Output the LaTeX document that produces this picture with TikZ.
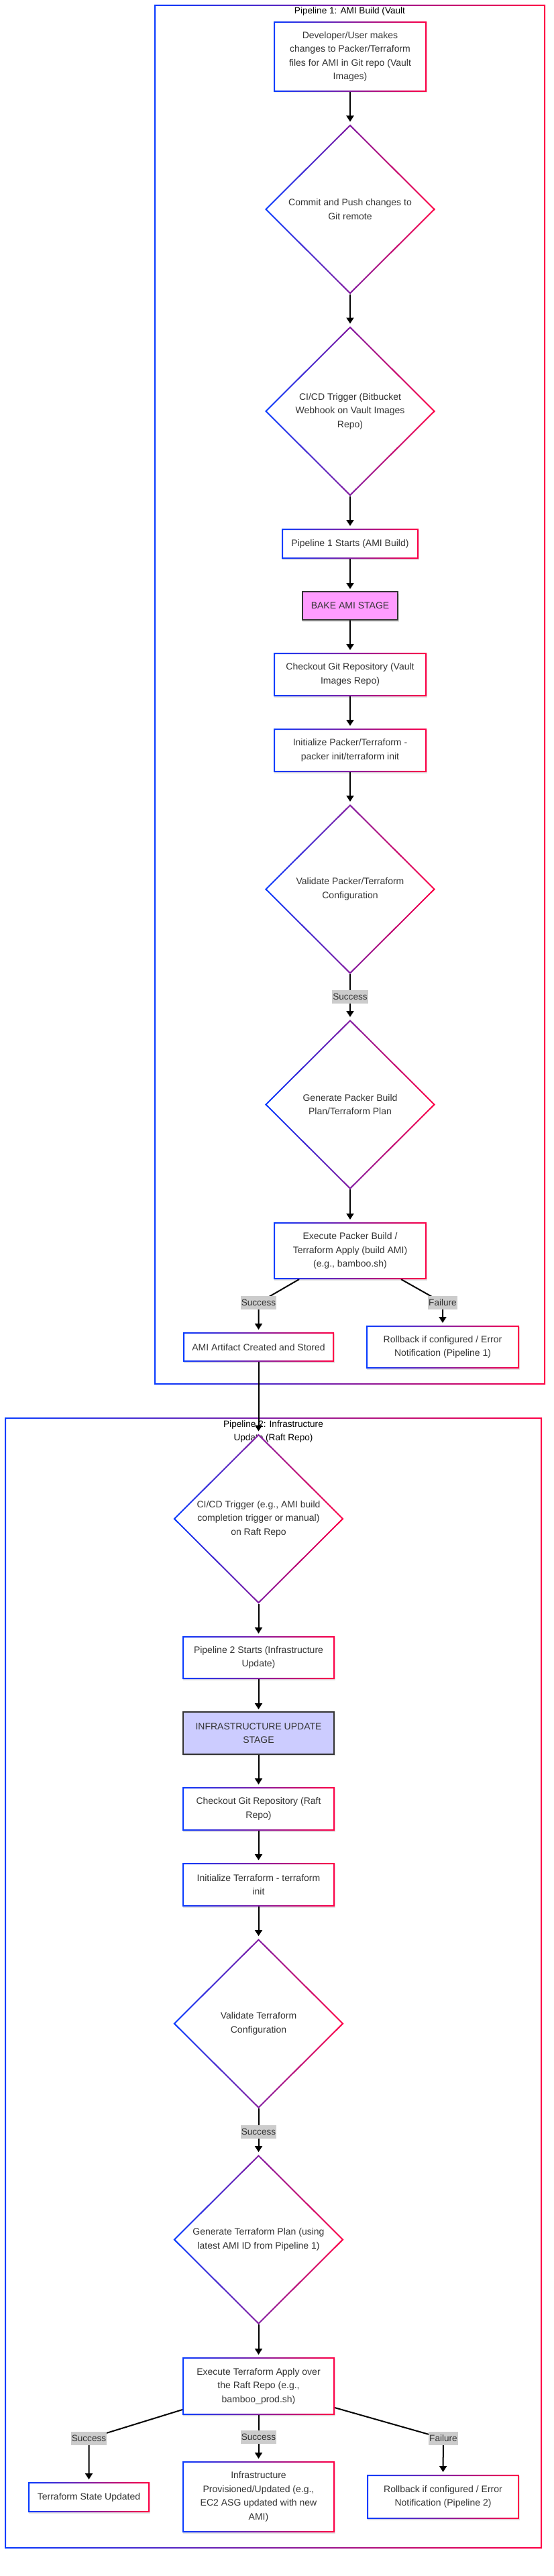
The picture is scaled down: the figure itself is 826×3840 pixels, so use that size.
\documentclass[tikz,border=0pt]{standalone}
\usepackage{fontspec}
\setmainfont{Liberation Sans}
\usetikzlibrary{arrows.meta,calc}
\definecolor{gBlue}{RGB}{10,60,255}
\definecolor{gRed}{RGB}{255,0,70}
\definecolor{txt}{HTML}{333333}
\definecolor{bakefill}{HTML}{FF9CFF}
\definecolor{infrafill}{HTML}{CCCCFF}
\definecolor{lblfill}{HTML}{CCCCCC}
\definecolor{stagedraw}{HTML}{333333}
\pgfdeclarelayer{clusters}
\pgfdeclarelayer{edges}
\pgfdeclarelayer{shapes}
\pgfsetlayers{clusters,edges,shapes,main}
\newcommand\nodefont{\fontsize{14pt}{20.5pt}\selectfont}
\newcommand\smallfont{\fontsize{13.6pt}{20pt}\selectfont}
\tikzset{
  every node/.style={inner sep=0pt, outer sep=0pt},
  gbox/.style={rectangle, align=center, text=txt, font=\nodefont},
  gdia/.style={rectangle, align=center, text=txt, font=\nodefont, minimum width=254pt, minimum height=253pt},
  stagebox/.style={rectangle, align=center, text=txt, font=\nodefont, draw=stagedraw, line width=2pt},
  lbl/.style={rectangle, fill=lblfill, text=txt, font=\smallfont, inner xsep=1pt, minimum height=20pt},
  ctitle/.style={font=\smallfont, text=black, align=center},
  arr/.style={draw=black, line width=2pt, -{Triangle[length=9pt,width=11pt]}, shorten >=4pt},
  cluster/.style={rectangle},
  gradborder/.style={left color=gBlue, right color=gRed, even odd rule},
}
\begin{document}
\begin{tikzpicture}[x=1pt,y=-1pt]
\useasboundingbox (0,0) rectangle (826,3840);

% ---------- clusters ----------
\begin{pgfonlayer}{clusters}
\fill[white] (0,0) rectangle (826,3840);
\node[cluster, minimum width=583pt, minimum height=2057pt] (c1) at (521.5,1035.5) {};
\node[cluster, minimum width=801pt, minimum height=1686pt] (c2) at (407.5,2956) {};
\foreach \c in {c1,c2} {
  \shade[gradborder] (\c.north west) rectangle (\c.south east)
    ([shift={(2pt,-2pt)}]\c.north west) rectangle ([shift={(-2pt,2pt)}]\c.south east);
}
\node[ctitle] (t1) at (521.5,17) {Pipeline 1: AMI Build (Vault};
\node[ctitle] (t2) at (407.5,2134) {Pipeline 2: Infrastructure\\Update (Raft Repo)};
\end{pgfonlayer}

% ---------- pipeline 1 nodes ----------
\node[gbox, minimum width=228pt, minimum height=105pt] (dev) at (522,84.5) {Developer/User makes\\changes to Packer/Terraform\\files for AMI in Git repo (Vault\\Images)};
\node[gdia] (commit) at (522,312) {Commit and Push changes to\\Git remote};
\node[gdia] (cicd1) at (522,613) {CI/CD Trigger (Bitbucket\\Webhook on Vault Images\\Repo)};
\node[gbox, minimum width=204pt, minimum height=45pt] (p1start) at (522,810.5) {Pipeline 1 Starts (AMI Build)};
\node[stagebox, fill=bakefill, minimum width=142pt, minimum height=42pt] (bake) at (522,903) {BAKE AMI STAGE};
\node[gbox, minimum width=228pt, minimum height=65pt] (checkout1) at (522,1005.5) {Checkout Git Repository (Vault\\Images Repo)};
\node[gbox, minimum width=228pt, minimum height=65pt] (init1) at (522,1118.5) {Initialize Packer/Terraform -\\packer init/terraform init};
\node[gdia] (validate1) at (522,1325.5) {Validate Packer/Terraform\\Configuration};
\node[lbl] (lA) at (522,1486) {Success};
\node[gdia] (gen1) at (522,1646.5) {Generate Packer Build\\Plan/Terraform Plan};
\node[gbox, minimum width=228pt, minimum height=85pt] (exec1) at (522,1864.5) {Execute Packer Build /\\Terraform Apply (build AMI)\\(e.g., bamboo.sh)};
\node[lbl] (lB) at (385.5,1942) {Success};
\node[lbl] (lC) at (660,1942) {Failure};
\node[gbox, minimum width=225pt, minimum height=44pt] (ami) at (385.5,2008) {AMI Artifact Created and Stored};
\node[gbox, minimum width=228pt, minimum height=64pt] (rb1) at (660,2008) {Rollback if configured / Error\\Notification (Pipeline 1)};

% ---------- pipeline 2 nodes ----------
\node[gdia] (cicd2) at (385.5,2264) {CI/CD Trigger (e.g., AMI build\\completion trigger or manual)\\on Raft Repo};
\node[gbox, minimum width=227pt, minimum height=64pt] (p2start) at (385.5,2471) {Pipeline 2 Starts (Infrastructure\\Update)};
\node[stagebox, fill=infrafill, minimum width=225pt, minimum height=63pt] (infra) at (385.5,2583.5) {INFRASTRUCTURE UPDATE\\STAGE};
\node[gbox, minimum width=227pt, minimum height=65pt] (checkout2) at (385.5,2696.5) {Checkout Git Repository (Raft\\Repo)};
\node[gbox, minimum width=227pt, minimum height=65pt] (init2) at (385.5,2809.5) {Initialize Terraform - terraform\\init};
\node[gdia] (validate2) at (385.5,3016.5) {Validate Terraform\\Configuration};
\node[lbl] (lD) at (385.5,3178) {Success};
\node[gdia] (gen2) at (385.5,3338.5) {Generate Terraform Plan (using\\latest AMI ID from Pipeline 1)};
\node[gbox, minimum width=227pt, minimum height=86pt] (exec2) at (385.5,3557) {Execute Terraform Apply over\\the Raft Repo (e.g.,\\bamboo\_prod.sh)};
\node[lbl] (lE) at (132.5,3635) {Success};
\node[lbl] (lF) at (385.5,3633) {Success};
\node[lbl] (lG) at (661,3635) {Failure};
\node[gbox, minimum width=181pt, minimum height=45pt] (tfstate) at (132.5,3722.5) {Terraform State Updated};
\node[gbox, minimum width=227pt, minimum height=106pt] (infraprov) at (385.5,3722) {Infrastructure\\Provisioned/Updated (e.g.,\\EC2 ASG updated with new\\AMI)};
\node[gbox, minimum width=227pt, minimum height=66pt] (rb2) at (660.5,3722) {Rollback if configured / Error\\Notification (Pipeline 2)};

% ---------- node outlines ----------
\begin{pgfonlayer}{shapes}
\foreach \n in {dev,p1start,checkout1,init1,exec1,ami,rb1,p2start,checkout2,init2,exec2,tfstate,infraprov,rb2} {
  \fill[black,opacity=0.10] ([shift={(1pt,-1.5pt)}]\n.north west) rectangle ([shift={(1pt,-1.5pt)}]\n.south east);
  \fill[white] (\n.north west) rectangle (\n.south east);
  \shade[gradborder] (\n.north west) rectangle (\n.south east)
    ([shift={(2pt,-2pt)}]\n.north west) rectangle ([shift={(-2pt,2pt)}]\n.south east);
}
\foreach \n in {bake,infra} {
  \fill[black,opacity=0.10] ([shift={(0pt,-2.5pt)}]\n.north west) rectangle ([shift={(2pt,-2.5pt)}]\n.south east);
}
\foreach \n in {commit,cicd1,validate1,gen1,cicd2,validate2,gen2} {
  \fill[white] (\n.north) -- (\n.east) -- (\n.south) -- (\n.west) -- cycle;
  \shade[gradborder] (\n.north) -- (\n.east) -- (\n.south) -- (\n.west) -- cycle
    ([yshift=-2.8pt]\n.north) -- ([xshift=-2.8pt]\n.east) -- ([yshift=2.8pt]\n.south) -- ([xshift=2.8pt]\n.west) -- cycle;
}
\end{pgfonlayer}

% ---------- connectors ----------
\begin{pgfonlayer}{edges}
\draw[arr] (dev.south) -- (commit.north);
\draw[arr] (commit.south) -- (cicd1.north);
\draw[arr] (cicd1.south) -- (p1start.north);
\draw[arr] (p1start.south) -- (bake.north);
\draw[arr] (bake.south) -- (checkout1.north);
\draw[arr] (checkout1.south) -- (init1.north);
\draw[arr] (init1.south) -- (validate1.north);
\draw[arr] (validate1.south) -- (lA.center) -- (gen1.north);
\draw[arr] (gen1.south) -- (exec1.north);
\draw[arr] ([xshift=-76pt]exec1.south) -- (lB.center) -- (ami.north);
\draw[arr] ([xshift=76pt]exec1.south) -- (lC.center) -- (rb1.north);
\draw[arr] (ami.south) -- (cicd2.north);
\draw[arr] (cicd2.south) -- (p2start.north);
\draw[arr] (p2start.south) -- (infra.north);
\draw[arr] (infra.south) -- (checkout2.north);
\draw[arr] (checkout2.south) -- (init2.north);
\draw[arr] (init2.south) -- (validate2.north);
\draw[arr] (validate2.south) -- (lD.center) -- (gen2.north);
\draw[arr] (gen2.south) -- (exec2.north);
\draw[arr] ([yshift=8pt]exec2.south west) -- (lE.center) -- (tfstate.north);
\draw[arr] (exec2.south) -- (lF.center) -- (infraprov.north);
\draw[arr] ([yshift=11pt]exec2.south east) -- (lG.center) -- (rb2.north);
\end{pgfonlayer}
\end{tikzpicture}
\end{document}
